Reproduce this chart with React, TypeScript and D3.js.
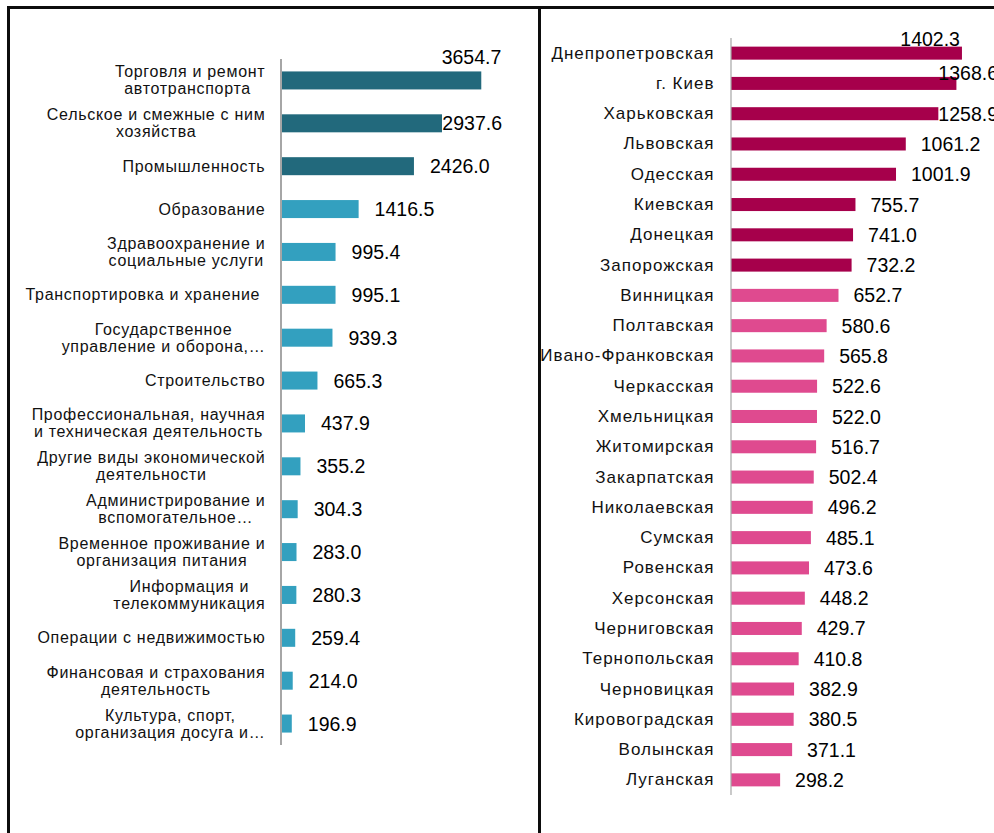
import React from 'react';
import * as d3 from 'd3';

// ---------- DATA ----------
const sectorLabels: string[] = [
  'Торговля и ремонт\nавтотранспорта ',
  'Сельское и смежные с ним\nхозяйства',
  'Промышленность',
  'Образование',
  'Здравоохранение и\nсоциальные услуги',
  'Транспортировка и хранение ',
  'Государственное\nуправление и оборона,…',
  'Строительство',
  'Профессиональная, научная\nи техническая деятельность',
  'Другие виды экономической\nдеятельности',
  'Администрирование и\nвспомогательное…',
  'Временное проживание и\nорганизация питания',
  'Информация и\nтелекоммуникация',
  'Операции с недвижимостью',
  'Финансовая и страхования\nдеятельность',
  'Культура, спорт,\nорганизация досуга и…',
];
const sectorValues: number[] = [
  3654.7, 2937.6, 2426.0, 1416.5, 995.4, 995.1, 939.3, 665.3,
  437.9, 355.2, 304.3, 283.0, 280.3, 259.4, 214.0, 196.9,
];
const sectorTopCount = 3;

const regionLabels: string[] = [
  'Днепропетровская', 'г. Киев', 'Харьковская', 'Львовская', 'Одесская',
  'Киевская', 'Донецкая', 'Запорожская', 'Винницкая', 'Полтавская',
  'Ивано-Франковская', 'Черкасская', 'Хмельницкая', 'Житомирская',
  'Закарпатская', 'Николаевская', 'Сумская', 'Ровенская', 'Херсонская',
  'Черниговская', 'Тернопольская', 'Черновицкая', 'Кировоградская',
  'Волынская', 'Луганская',
];
const regionValues: number[] = [
  1402.3, 1368.6, 1258.9, 1061.2, 1001.9, 755.7, 741.0, 732.2, 652.7,
  580.6, 565.8, 522.6, 522.0, 516.7, 502.4, 496.2, 485.1, 473.6, 448.2,
  429.7, 410.8, 382.9, 380.5, 371.1, 298.2,
];
const regionTopCount = 8;

// ---------- LAYOUT / STYLE ----------
const W = 994;
const H = 833;
const FONT = '"Liberation Sans", Arial, sans-serif';
const VAL_SIZE = 19.5;

let _ctx: CanvasRenderingContext2D | null = null;
function measure(text: string, size: number, ls = 0): number {
  if (!_ctx) {
    const c = document.createElement('canvas');
    _ctx = c.getContext('2d');
  }
  if (!_ctx) return text.length * size * 0.55;
  _ctx.font = `${size}px ${FONT}`;
  return _ctx.measureText(text).width + ls * text.length;
}

type PanelProps = {
  labels: string[];
  values: number[];
  topCount: number;
  domainMax: number;
  x0: number;
  x1: number;
  y0: number;
  y1: number;
  padding: number;
  labelRight: number;
  valueRight: number;
  liftOffset: number;
  gap: number;
  dark: string;
  light: string;
  axisWidth: number;
  catSize: number;
  catSpacing: number;
};

function Panel(p: PanelProps) {
  const x = d3.scaleLinear().domain([0, p.domainMax]).range([p.x0, p.x1]);
  const y = d3
    .scaleBand<number>()
    .domain(d3.range(p.labels.length))
    .range([p.y0, p.y1])
    .paddingInner(p.padding)
    .paddingOuter(p.padding / 2);
  const lineH = 17;
  return (
    <g>
      {p.values.map((v, i) => {
        const yb = y(i) as number;
        const bw = y.bandwidth();
        const cy = yb + bw / 2;
        const barEnd = x(v);
        const txt = v.toFixed(1);
        const tw = measure(txt, VAL_SIZE);
        let tx = Math.min(barEnd + p.gap, p.valueRight - tw);
        const overlap = Math.max(0, barEnd - tx);
        const dy = -overlap * 0.6;
        if (overlap > 20) {
          tx = Math.min(p.valueRight, barEnd + p.liftOffset) - tw;
        }
        const lines = p.labels[i].split('\n');
        const maxW =
          d3.max(lines, (l) => measure(l, p.catSize, p.catSpacing)) || 0;
        const lx = p.labelRight - maxW / 2;
        return (
          <g key={i}>
            <rect
              x={x(0)}
              y={yb}
              width={barEnd - x(0)}
              height={bw}
              fill={i < p.topCount ? p.dark : p.light}
            />
            <text
              x={tx}
              y={cy + dy}
              dominantBaseline="central"
              fontSize={VAL_SIZE}
              fontFamily={FONT}
              fill="#000"
            >
              {txt}
            </text>
            {lines.map((l, j) => (
              <text
                key={j}
                x={lx + p.catSpacing / 2}
                y={cy + (j - (lines.length - 1) / 2) * lineH}
                textAnchor="middle"
                dominantBaseline="central"
                fontSize={p.catSize}
                fontFamily={FONT}
                letterSpacing={p.catSpacing}
                fill="#111"
                style={{ whiteSpace: 'pre' }}
              >
                {l}
              </text>
            ))}
          </g>
        );
      })}
      <line
        x1={p.x0}
        x2={p.x0}
        y1={p.y0}
        y2={p.y1}
        stroke="#a6a6a6"
        strokeWidth={p.axisWidth}
      />
    </g>
  );
}

export default function App() {
  return (
    <svg
      width={W}
      height={H}
      style={{ position: 'absolute', left: 0, top: 0, background: '#fff' }}
    >
      <rect x={0} y={0} width={W} height={H} fill="#fff" />
      <Panel
        labels={sectorLabels}
        values={sectorValues}
        topCount={sectorTopCount}
        domainMax={4000}
        x0={281}
        x1={281 + 4000 * 0.0548}
        y0={59}
        y1={745}
        padding={0.58}
        labelRight={265}
        valueRight={502}
        liftOffset={20}
        gap={16}
        dark="#22697c"
        light="#33a0bf"
        axisWidth={2}
        catSize={16}
        catSpacing={0.7}
      />
      <Panel
        labels={regionLabels}
        values={regionValues}
        topCount={regionTopCount}
        domainMax={1500}
        x0={731}
        x1={731 + 1500 * 0.1647}
        y0={38}
        y1={795}
        padding={0.57}
        labelRight={714}
        valueRight={998}
        liftOffset={-2}
        gap={15}
        dark="#a6004b"
        light="#df4a8f"
        axisWidth={1.2}
        catSize={17}
        catSpacing={1.0}
      />
      <g stroke="#0d0d0d" strokeWidth={3}>
        <line x1={7} x2={W} y1={7.5} y2={7.5} />
        <line x1={8.5} x2={8.5} y1={6} y2={H} />
        <line x1={539.5} x2={539.5} y1={6} y2={H} />
      </g>
    </svg>
  );
}
